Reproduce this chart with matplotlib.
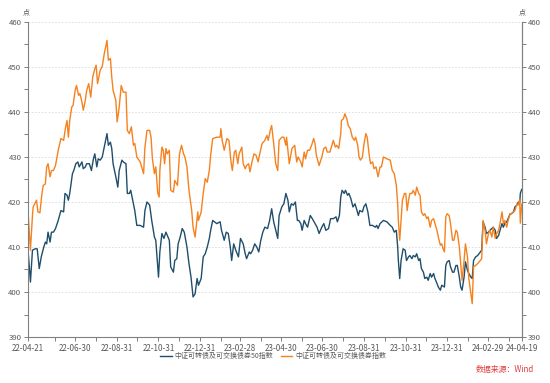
import matplotlib
matplotlib.use("Agg")
import matplotlib.pyplot as plt
import matplotlib.dates as mdates
from matplotlib.ticker import MultipleLocator, FixedLocator
import pandas as pd

plt.rcParams['font.family'] = ['Noto Sans CJK SC', 'DejaVu Sans']

start_date = "2022-04-21"

orange_days = [0,2,4,7,8,13,15,18,21,23,26,28,30,33,35,38,41,45,49,53,56,58,60,62,65,67,70,72,75,77,80,82,85,87,90,93,96,99,101,103,107,110,113,117,119,122,124,126,130,132,135,138,141,145,147,150,153,156,158,161,166,171,173,176,180,182,184,187,189,192,194,195,198,200,202,204,206,209,211,215,217,221,224,227,230,232,235,238,242,244,247,251,252,256,259,262,265,268,270,273,279,284,285,287,290,294,297,300,302,305,307,310,312,316,318,321,323,326,328,331,334,337,340,343,346,350,353,355,358,360,363,366,369,371,375,378,381,382,386,390,394,397,399,403,405,408,410,413,416,419,422,424,426,430,434,437,440,442,446,449,451,454,456,459,462,463,466,468,471,473,476,479,482,484,487,489,491,494,496,499,501,504,506,509,511,514,517,520,522,525,530,535,538,541,544,546,547,549,551,553,556,558,560,562,564,567,569,572,574,577,579,581,584,586,589,591,594,596,599,601,604,606,609,611,613,615,617,619,622,624,627,629,632,634,637,639,641,644,646,649,651,654,656,658,661,664,668,670,672,675,677,680,682,685,687,690,692,695,697,700,702,704,707,709,712,714,717,719,722,724,726,727,729]
orange_vals = [418.9,414.0,409.3,417.0,418.9,420.4,417.8,417.6,421.9,423.7,424.0,427.8,428.5,425.6,427.0,427.0,428.1,431.5,434.1,433.7,436.7,438.1,434.4,438.1,441.1,441.5,444.8,445.9,443.7,444.1,442.2,440.4,442.6,444.8,446.3,443.3,447.8,449.6,450.4,446.3,449.3,450.1,453.0,455.9,451.5,451.9,447.8,444.8,442.6,437.8,441.1,445.9,444.4,444.4,435.9,435.2,436.7,432.6,433.0,430.0,428.9,426.3,432.2,435.9,435.9,434.4,429.6,426.3,427.8,421.9,421.1,427.0,432.2,431.5,428.5,431.9,430.7,431.5,422.6,422.2,424.8,423.7,430.7,432.6,430.7,430.0,427.8,422.6,418.1,414.4,412.2,417.8,415.9,417.8,421.9,425.2,424.4,427.0,430.4,434.1,434.4,434.4,436.3,433.7,431.5,434.1,433.7,428.9,427.0,431.1,431.5,428.5,430.7,432.2,428.5,427.4,428.1,428.5,426.7,428.9,430.7,430.4,428.9,431.1,433.0,433.7,434.8,433.7,436.0,437.0,433.0,428.5,427.0,433.7,434.4,434.4,432.6,434.4,428.5,431.9,432.6,428.9,430.0,428.9,427.8,431.1,429.6,431.5,431.5,432.6,434.1,433.0,430.4,428.1,430.0,431.9,432.2,431.1,431.1,432.6,433.7,432.2,432.6,431.9,435.2,438.1,438.5,439.6,438.5,437.0,436.3,434.4,433.7,434.4,432.6,430.0,429.3,430.0,432.6,435.2,434.4,430.4,428.5,428.9,427.4,427.8,425.6,427.8,427.8,430.0,429.6,429.3,427.0,426.3,423.7,419.6,415.9,411.5,415.9,420.4,421.9,421.9,418.1,420.4,421.9,421.9,422.6,421.5,423.3,421.9,421.5,417.8,417.0,417.4,416.3,416.7,414.4,415.9,416.3,415.2,413.7,412.2,410.4,410.7,409.6,408.9,416.7,417.4,417.0,415.2,411.5,411.5,413.7,413.3,410.0,406.3,402.6,407.0,410.7,407.8,403.0,399.6,397.4,405.6,405.9,406.3,407.0,407.4,415.9,413.7,410.7,413.0,413.7,412.2,414.4,411.9,413.0,413.7,415.2,417.8,415.2,415.9,414.4,415.9,417.4,417.4,417.8,418.1,419.6,419.3,420.5,415.3,419.5]

blue_days = [0,2,4,7,11,14,17,20,23,26,28,30,33,35,38,41,45,49,53,55,58,60,62,66,68,71,74,76,80,82,85,87,91,94,97,99,102,104,107,110,113,117,119,122,124,126,130,133,135,139,141,145,147,150,152,155,158,161,166,171,173,176,180,183,187,189,193,195,198,201,204,206,209,211,215,217,220,222,225,228,231,235,238,241,244,247,250,252,256,259,262,265,268,270,273,279,284,286,290,293,296,299,301,304,307,311,314,318,321,323,327,329,332,335,338,341,344,347,350,354,357,360,363,366,369,371,375,378,381,384,386,389,392,395,398,400,403,405,408,410,413,417,420,424,427,430,434,437,440,444,447,451,455,457,460,462,464,467,469,472,474,477,480,483,486,488,490,494,496,499,502,505,509,513,515,517,520,525,530,535,538,541,544,546,547,549,551,554,557,559,562,564,567,569,572,574,577,579,581,584,586,589,591,594,596,599,601,604,606,609,611,615,617,619,622,624,627,629,632,634,637,639,641,644,646,649,651,654,656,658,661,664,668,670,672,675,677,680,682,685,687,690,692,695,697,700,702,704,707,709,712,714,717,719,722,724,726,727,729]
blue_vals = [410.0,406.3,402.2,409.3,409.6,409.6,405.2,407.8,409.6,411.1,410.7,413.3,411.1,413.3,413.3,414.1,415.9,418.1,417.8,421.9,421.5,420.4,421.9,426.3,427.0,428.5,428.9,427.8,428.9,427.4,427.8,428.5,428.5,427.0,429.6,430.7,427.8,429.6,429.3,430.0,432.2,435.2,432.6,433.3,431.9,428.5,425.6,423.3,427.0,429.3,428.9,428.5,421.9,421.9,422.6,420.4,418.1,414.8,414.8,414.4,418.1,420.0,419.3,415.9,412.2,411.5,403.3,408.9,413.0,411.9,413.3,412.6,411.5,405.6,404.4,407.0,407.4,410.7,412.2,414.1,413.3,410.0,406.3,403.3,398.9,399.6,403.0,401.5,403.0,407.8,408.5,410.0,411.9,413.7,415.9,415.2,415.6,413.7,411.5,413.3,413.0,410.0,407.0,410.7,409.3,407.8,411.9,410.7,408.5,407.4,408.9,408.5,409.3,410.7,410.0,408.9,411.5,413.3,414.4,414.1,415.9,418.5,415.6,413.7,411.9,417.0,418.9,419.6,421.9,420.4,417.8,419.6,419.3,420.0,415.9,415.9,415.2,413.7,415.9,415.2,414.4,417.0,416.3,415.2,414.4,413.0,414.4,415.2,413.7,414.1,416.3,416.3,416.7,415.6,417.0,421.1,422.6,421.9,422.6,421.5,421.9,420.7,418.9,419.6,418.1,417.0,418.1,417.8,418.9,419.6,417.8,414.8,414.8,414.4,414.8,414.1,415.2,415.9,415.6,414.8,414.4,413.3,413.7,410.0,407.0,403.0,407.0,409.6,409.3,407.0,407.8,408.1,407.4,408.1,407.8,408.5,407.0,407.4,405.2,404.4,403.0,403.3,402.6,404.1,403.3,404.1,403.0,401.9,401.1,400.4,401.5,401.1,405.9,406.7,407.0,405.6,404.4,404.4,405.9,405.9,403.3,401.1,400.4,403.3,406.7,404.8,404.1,403.3,403.0,407.0,407.8,408.1,408.9,409.3,415.6,414.4,413.0,413.3,413.7,414.1,414.4,413.7,411.9,412.6,413.7,415.2,414.4,415.2,415.6,416.3,417.4,417.4,417.8,418.9,419.3,420.0,419.5,421.9,422.8]

series_names = ["中证可转债及可交换债券50指数", "中证可转债及可交换债券指数"]
series_colors = ["#1f4e6b", "#f5821f"]

xtick_labels = ["2022-04-21","2022-06-30","2022-08-31","2022-10-31","2022-12-31","2023-02-28",
                "2023-04-30","2023-06-30","2023-08-31","2023-10-31","2023-12-31","2024-02-29","2024-04-19"]
xminor = ["2022-05-31","2022-07-31","2022-09-30","2022-11-30","2023-01-31","2023-03-31",
          "2023-05-31","2023-07-31","2023-09-30","2023-11-30","2024-01-31","2024-03-31"]

t0 = pd.Timestamp(start_date)
o_dates = t0 + pd.to_timedelta(orange_days, unit="D")
b_dates = t0 + pd.to_timedelta(blue_days, unit="D")

fig = plt.figure(figsize=(5.5, 3.83), dpi=100)
ax = fig.add_axes([0.0504, 0.1201, 0.8981, 0.8225])

ax.plot(b_dates, blue_vals, color=series_colors[0], lw=1.0, label=series_names[0])
ax.plot(o_dates, orange_vals, color=series_colors[1], lw=1.0, label=series_names[1])

ax.set_xlim(pd.Timestamp(xtick_labels[0]), pd.Timestamp(xtick_labels[-1]))
ax.set_ylim(390, 460)

gray = "#808080"
txt = "#595959"
ax.yaxis.set_major_locator(MultipleLocator(10))
ax.yaxis.set_minor_locator(MultipleLocator(5))
ax.grid(axis="y", which="major", color="#d9d9d9", linestyle=(0, (2, 2)), lw=0.6)
ax.set_axisbelow(True)

ax.xaxis.set_major_locator(FixedLocator(mdates.date2num(pd.to_datetime(xtick_labels))))
ax.xaxis.set_minor_locator(FixedLocator(mdates.date2num(pd.to_datetime(xminor))))
ax.xaxis.set_major_formatter(mdates.DateFormatter("%y-%m-%d"))

ax.spines["top"].set_visible(False)
for s in ["left", "right", "bottom"]:
    ax.spines[s].set_color(gray)
    ax.spines[s].set_linewidth(0.8)

ax.tick_params(axis="both", which="both", direction="out", color=gray, length=3, width=0.7)
ax.tick_params(axis="x", labelsize=5.8, labelcolor=txt, pad=2)
ax.tick_params(axis="y", labelsize=5.6, labelcolor=txt, pad=1.5)

ax2 = ax.twinx()
ax2.set_ylim(390, 460)
ax2.yaxis.set_major_locator(MultipleLocator(10))
ax2.yaxis.set_minor_locator(MultipleLocator(5))
for s in ["top", "left", "bottom"]:
    ax2.spines[s].set_visible(False)
ax2.spines["right"].set_color(gray)
ax2.spines["right"].set_linewidth(0.8)
ax2.tick_params(axis="y", which="both", direction="out", color=gray, length=3, width=0.7,
                labelsize=5.6, labelcolor=txt, pad=1.5)

fig.text(0.0485, 0.968, "点", fontsize=5, color=txt, ha="center", va="center")
fig.text(0.950, 0.968, "点", fontsize=5, color=txt, ha="center", va="center")

ax.legend(loc="center", bbox_to_anchor=(0.497, -0.061), ncol=2, frameon=False,
          fontsize=5.0, handlelength=1.7, handletextpad=0.45, columnspacing=1.0,
          labelcolor=txt)

fig.text(0.971, 0.034, "数据来源：Wind", fontsize=5.7, color="#e03c3c", ha="right", va="center")

fig.savefig("out.png", dpi=100)
